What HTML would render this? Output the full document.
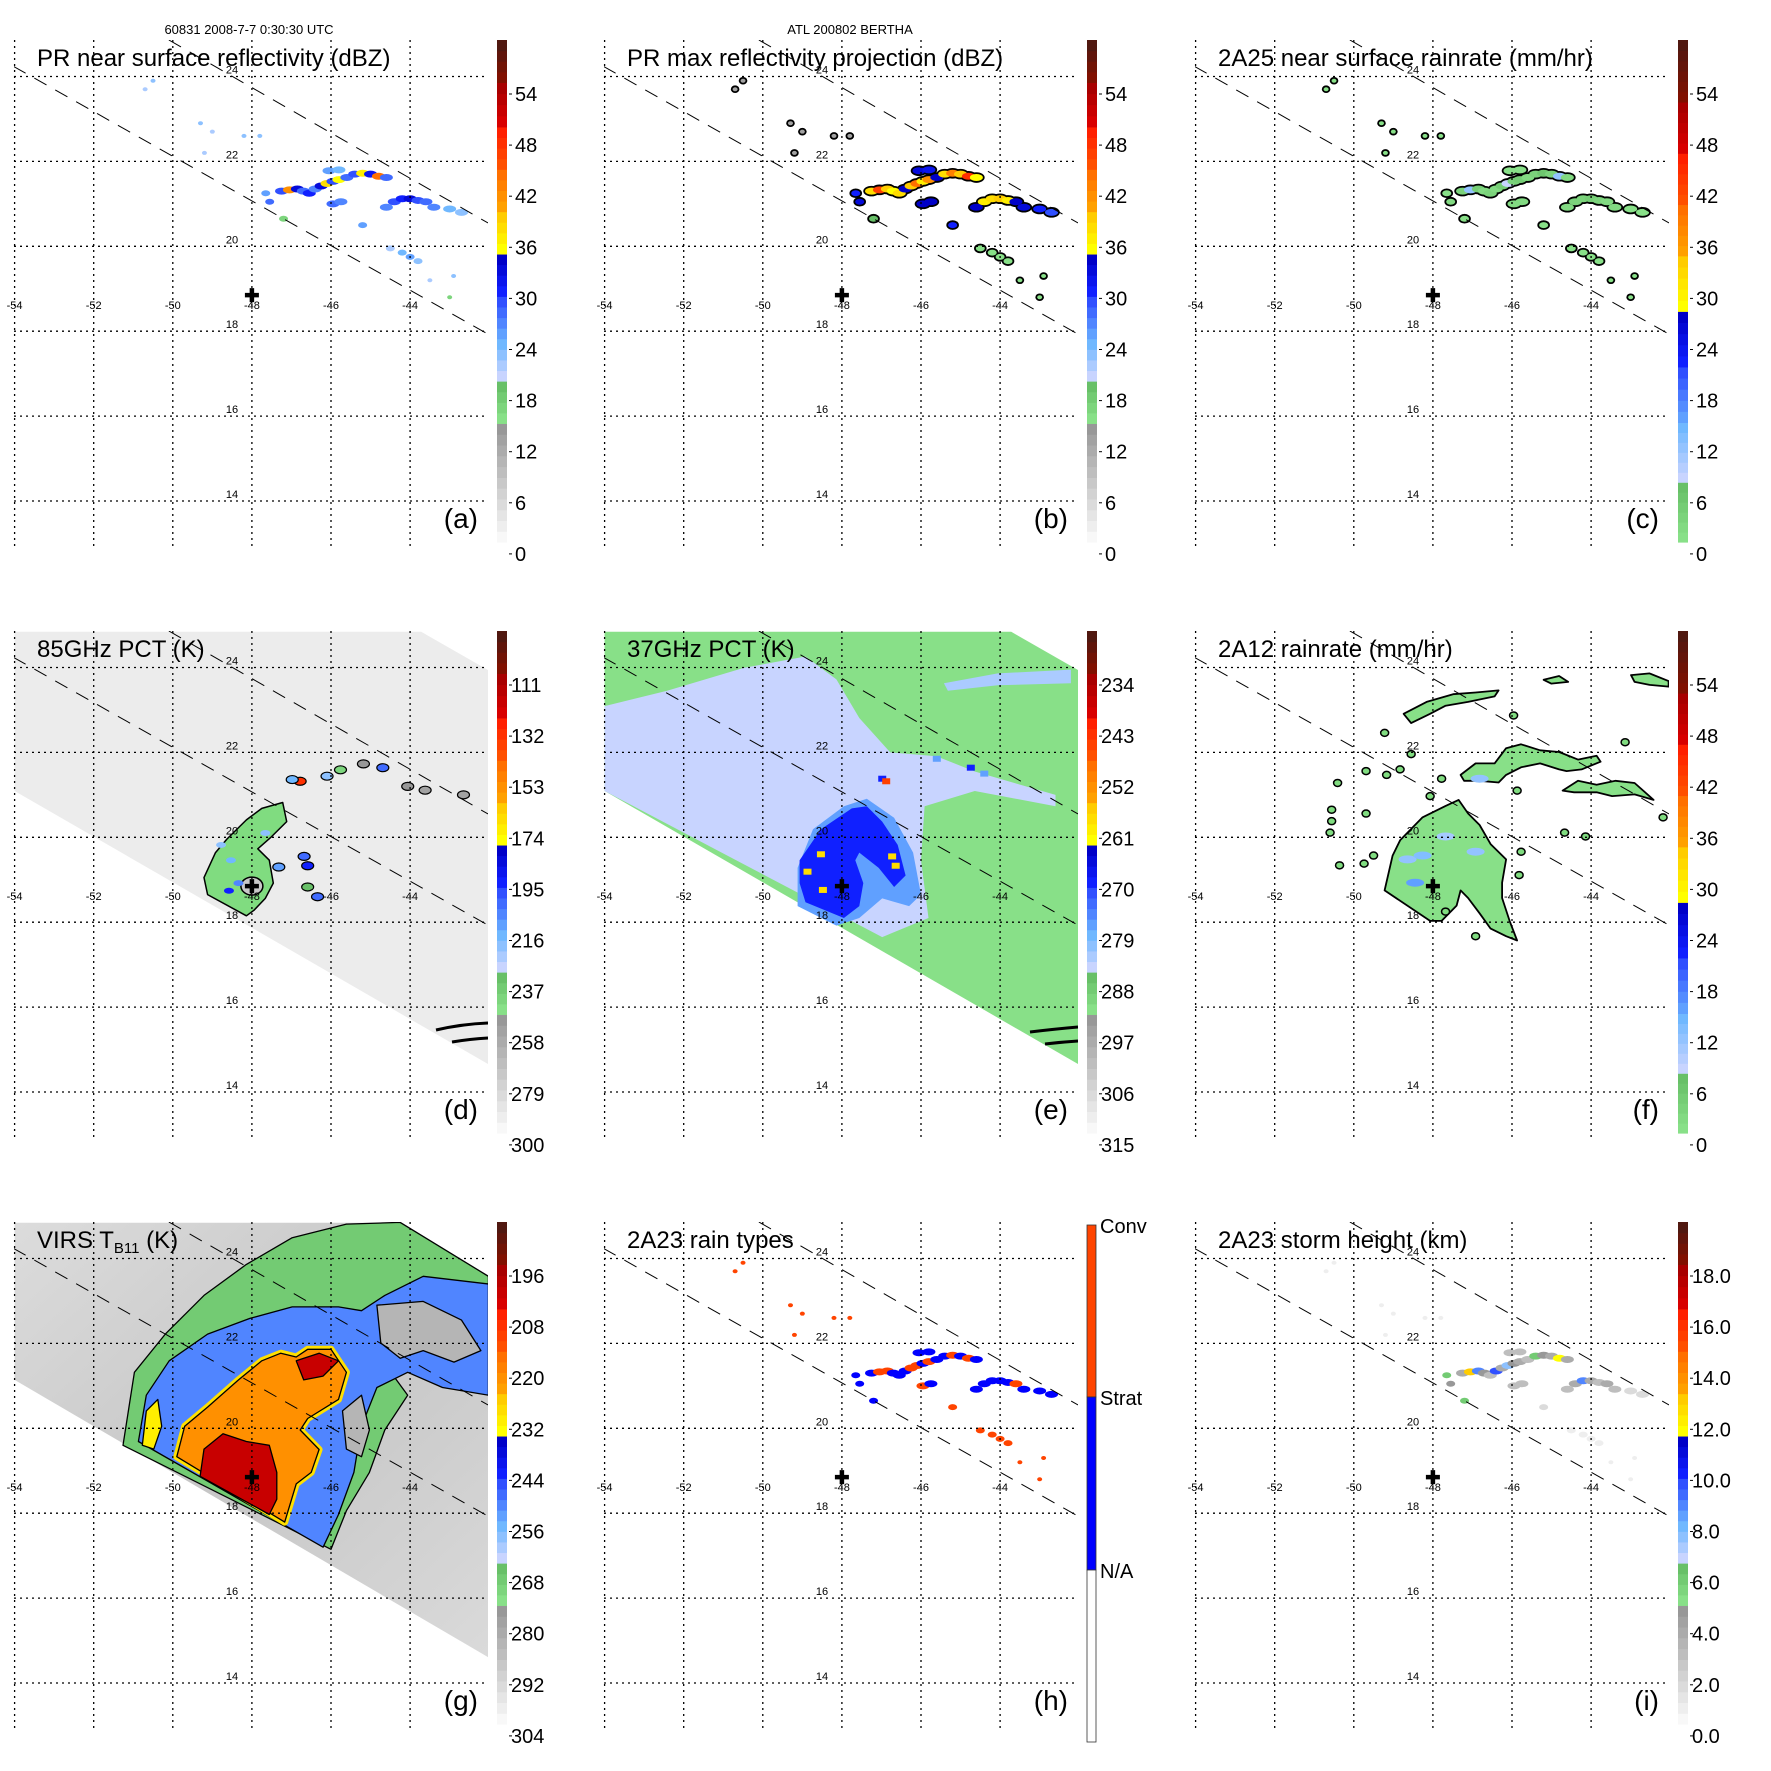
<!DOCTYPE html>
<html><head><meta charset="utf-8"><style>
html,body{margin:0;padding:0;background:#fff;}
svg{display:block;font-family:"Liberation Sans",sans-serif;}
</style></head><body>
<svg id="chart" width="1771" height="1771" viewBox="0 0 1771 1771" xmlns="http://www.w3.org/2000/svg">
<rect x="0" y="0" width="1771" height="1771" fill="#fff"/>
<text x="249" y="34" font-size="13" text-anchor="middle">60831 2008-7-7 0:30:30 UTC</text>
<text x="850" y="34" font-size="13" text-anchor="middle">ATL 200802 BERTHA</text>
</svg>
<script>
// ---------------- data ----------------
const lonTicks=[-54,-52,-50,-48,-46,-44];
const latTicks=[24,22,20,18,16,14];
const stormCenter=[-48,18.85];
const swathUpper=[[-50.1,24.86],[-42.03,20.55]];
const swathLower=[[-54.03,24.24],[-42.03,17.93]];
const tmiSwath=[[-54,24.84],[-43.72,24.84],[-42.03,23.94],[-42.03,14.66],[-54,21.09]];
const virsSwath=[[-54,24.84],[-44.25,24.84],[-42.03,23.45],[-42.03,14.61],[-54,21.14]];

const labelsDbz=[54,48,42,36,30,24,18,12,6,0];
const labelsRain=[54,48,42,36,30,24,18,12,6,0];
const labels85=[111,132,153,174,195,216,237,258,279,300];
const labels37=[234,243,252,261,270,279,288,297,306,315];
const labelsVirs=[196,208,220,232,244,256,268,280,292,304];
const labelsHt=["18.0","16.0","14.0","12.0","10.0","8.0","6.0","4.0","2.0","0.0"];

// PR pixel locations shared by panels a,b,c,h,i
const prLon=[-47.25,-47.05,-46.85,-46.70,-46.55,-46.40,-46.25,-46.10,-45.95,-45.80,-45.60,-45.40,-45.20,-45.00,-44.80,-44.60,-46.05,-45.80,
 -44.60,-44.40,-44.20,-44.00,-43.80,-43.60,-43.40,-43.00,-42.70,-45.95,-45.75,-47.65,-47.55,-47.20,-45.20,-44.20,-44.00,-43.80,-44.50,
 -50.70,-50.50,-49.30,-49.00,-48.20,-47.80,-49.20,-42.90,-43.50,-43.00];
const prLat=[21.30,21.33,21.35,21.30,21.25,21.35,21.42,21.48,21.53,21.57,21.62,21.70,21.72,21.70,21.65,21.62,21.78,21.80,
 20.92,21.05,21.12,21.12,21.08,21.05,20.92,20.88,20.80,21.00,21.05,21.25,21.05,20.65,20.50,19.85,19.75,19.65,19.95,
 23.70,23.90,22.90,22.70,22.60,22.60,22.20,19.30,19.20,18.80];
const reflNear=[30,42,33,28,31,27,33,38,30,36,28,30,37,32,44,29,26,25,27,30,31,33,30,29,27,25,24,28,27,26,28,17,26,25,26,24,22,22,24,24,22,23,24,22,24,22,17];
const reflMax=[38,47,40,36,38,34,40,44,37,42,35,38,43,39,48,36,33,32,34,37,38,40,37,35,33,31,30,35,34,31,33,20,31,16,16,16,16,14,14,14,14,14,14,14,16,16,16];
const rainNear=[4,12,5,3,4,3,5,9,4,6,3,4,7,4,13,3,2,2,3,4,4,5,4,3,3,2,2,3,3,2,3,1,2,1,1,1,1,1,1,1,1,1,1,1,1,1,1];
const rainType=[1,2,2,1,1,1,2,2,1,2,1,1,2,1,2,1,1,1,1,1,1,1,1,2,1,1,1,2,1,1,1,1,2,2,2,2,2,2,2,2,2,2,2,2,2,2,2];
const stormHt=[4,13,9,5,3,10,4,8,5,4,3,6,5,4,12,4,3,3,3,4,9,4,3,4,3,2,2,3,3,6,5,6,2,1,1,1,1,1,1,1,1,1,1,1,1,1,1];

// TMI 85 GHz
const core85=[[-49.12,18.65],[-49.21,19.05],[-48.92,19.64],[-48.63,19.96],[-48.14,20.41],[-47.75,20.68],[-47.22,20.82],[-47.12,20.37],[-47.51,20.01],[-47.85,19.73],[-47.56,19.46],[-47.46,18.92],[-47.66,18.56],[-47.95,18.28],[-48.14,18.15]];
const spot85Lon=[-47.32,-46.68,-46.59,-46.59,-46.34,-46.78,-46.98,-46.10,-45.76,-45.18,-44.69,-44.06,-43.62,-42.65,-48.53,-48.58,-48.34,-48.78,-47.66];
const spot85Lat=[19.30,19.55,19.33,18.83,18.60,21.32,21.36,21.44,21.59,21.73,21.64,21.20,21.11,21.00,19.46,18.74,18.92,19.82,20.10];
const spot85Val=[210,200,190,230,200,130,215,220,240,250,200,250,255,255,215,190,205,220,220];
// TMI 37 GHz
const light37=[[-54,21.55],[-54,23.09],[-52.42,23.45],[-50.48,23.99],[-48.92,24.26],[-48.14,23.72],[-47.56,22.81],[-46.78,22.0],[-45.61,21.91],[-44.64,21.55],[-42.6,21.0],[-42.6,20.73],[-44.64,21.09],[-45.91,20.73],[-46.0,19.46],[-45.81,18.10],[-46.98,17.65],[-54,21.09]];
const streak37=[[-45.42,23.63],[-44.06,23.86],[-42.21,23.95],[-42.21,23.63],[-44.06,23.58],[-45.32,23.45]];
const mid37=[[-49.12,19.28],[-48.73,20.19],[-47.95,20.73],[-47.37,20.91],[-46.68,20.46],[-46.2,19.64],[-46.0,18.65],[-46.30,18.38],[-46.98,18.56],[-47.56,18.10],[-48.14,17.92],[-49.12,18.38]];
const dark37=[[-49.07,19.46],[-48.53,20.19],[-47.75,20.68],[-47.37,20.73],[-46.98,20.37],[-46.59,19.82],[-46.39,19.10],[-46.68,18.83],[-47.07,19.28],[-47.56,19.64],[-47.66,19.46],[-47.46,18.92],[-47.56,18.38],[-47.95,18.10],[-48.92,18.47],[-49.07,18.92]];
const spot37Lon=[-48.53,-48.87,-48.48,-46.73,-46.64,-46.98,-46.88,-44.74,-45.60,-44.40];
const spot37Lat=[19.60,19.19,18.76,19.55,19.33,21.38,21.32,21.64,21.85,21.50];
const spot37Val=[258,258,258,258,258,268,245,268,276,276];
// 2A12
const coreF=[[-49.22,18.75],[-49.02,19.57],[-48.83,19.93],[-48.26,20.47],[-47.68,20.74],[-47.35,20.88],[-47.11,20.56],[-46.82,20.29],[-46.54,19.84],[-46.15,19.48],[-46.25,18.93],[-46.25,18.57],[-46.06,18.03],[-45.87,17.57],[-46.15,17.67],[-46.54,17.85],[-46.82,18.21],[-47.11,18.57],[-47.30,18.75],[-47.40,18.39],[-47.78,18.03],[-48.07,18.03]];
const bandF2=[[-47.30,21.47],[-46.92,21.74],[-46.44,21.74],[-46.15,22.10],[-45.77,22.19],[-45.29,22.05],[-44.81,22.01],[-44.33,21.83],[-43.86,21.92],[-43.76,21.78],[-44.24,21.60],[-44.62,21.56],[-44.81,21.60],[-45.29,21.74],[-45.77,21.65],[-46.15,21.47],[-46.34,21.29],[-46.82,21.33],[-47.21,21.33]];
const bandF3=[[-44.72,21.10],[-44.33,21.33],[-43.86,21.24],[-43.38,21.33],[-42.90,21.28],[-42.42,20.88],[-42.90,21.01],[-43.47,20.97],[-43.86,21.06],[-44.43,21.06]];
const bandF4=[[-48.74,22.91],[-48.16,23.19],[-47.49,23.37],[-46.92,23.41],[-46.34,23.46],[-46.44,23.32],[-47.11,23.19],[-47.68,23.10],[-48.07,22.91],[-48.55,22.69]];
const bandF5=[[-45.20,23.71],[-44.81,23.80],[-44.58,23.66],[-45.01,23.62]];
const bandF6=[[-42.99,23.82],[-42.52,23.86],[-42.04,23.68],[-42.04,23.55],[-42.52,23.59],[-42.90,23.66]];
const rainF=[2,2,2,2,2,2];
const spotFLon=[-50.56,-50.56,-50.60,-50.41,-49.69,-49.17,-48.83,-48.55,-49.22,-49.69,-49.50,-49.74,-50.36,-48.07,-47.78,-45.87,-45.96,-45.77,-45.82,-44.14,-43.14,-42.18,-47.68,-46.92,-44.67];
const spotFLat=[20.38,20.65,20.11,21.28,21.56,21.47,21.60,21.96,22.46,20.56,19.57,19.38,19.34,20.97,21.38,21.10,22.87,19.66,19.11,20.02,22.24,20.47,18.25,17.67,20.11];
const heavyFLon=[-48.64,-48.26,-47.68,-46.92,-48.45,-46.82];
const heavyFLat=[19.48,19.57,20.02,19.66,18.93,21.38];
const heavyFVal=[12,14,11,12,16,13];
// VIRS
const virsGreen=[[-51.26,19.60],[-50.97,21.32],[-50.19,22.22],[-49.21,23.13],[-48.14,23.86],[-46.98,24.49],[-45.61,24.81],[-44.25,24.85],[-42.02,23.58],[-42.02,23.22],[-43.67,22.77],[-44.64,22.41],[-44.84,21.77],[-44.06,20.78],[-44.64,19.96],[-45.03,18.96],[-45.61,18.06],[-46.0,17.15]];
const virsBlue=[[-50.87,19.69],[-50.67,20.78],[-50.09,21.59],[-49.12,22.22],[-48.05,22.59],[-46.98,22.86],[-45.81,22.86],[-45.23,22.77],[-44.64,23.13],[-43.67,23.58],[-42.02,23.40],[-42.02,20.78],[-43.18,20.96],[-44.06,21.32],[-44.84,20.96],[-45.23,20.05],[-45.42,18.96],[-45.81,17.97],[-46.20,17.20]];
const virsHole1=[[-44.84,22.90],[-43.67,22.99],[-42.70,22.55],[-42.21,21.83],[-42.89,21.56],[-43.67,21.83],[-44.25,21.65],[-44.74,22.01]];
const virsHole2=[[-45.71,20.41],[-45.23,20.78],[-45.03,19.96],[-45.23,19.33],[-45.61,19.51]];
const virsOrange=[[-49.90,19.33],[-49.70,20.05],[-49.12,20.50],[-48.34,21.14],[-47.75,21.59],[-47.27,21.77],[-46.88,21.68],[-46.59,21.86],[-46.0,21.86],[-45.61,21.32],[-45.81,20.68],[-46.59,20.23],[-46.78,19.96],[-46.30,19.50],[-46.50,18.96],[-46.88,18.69],[-47.17,17.79]];
const virsRed=[[-49.31,18.87],[-49.21,19.51],[-48.73,19.87],[-48.14,19.69],[-47.56,19.60],[-47.37,18.96],[-47.37,18.33],[-47.56,17.97]];
const virsRed2=[[-46.88,21.59],[-46.30,21.77],[-45.81,21.59],[-46.20,21.23],[-46.69,21.14]];
const virsYellow=[[-50.67,20.41],[-50.38,20.68],[-50.28,20.05],[-50.48,19.51],[-50.77,19.60]];
const virsVals=[268,250,282,282,221,200,200,230];

// ---------------- rendering ----------------
const NS='http://www.w3.org/2000/svg';
const svg=document.getElementById('chart');
function mk(tag,parent){const e=document.createElementNS(NS,tag);(parent||svg).appendChild(e);return e;}
function hx(h){return [parseInt(h.slice(1,3),16),parseInt(h.slice(3,5),16),parseInt(h.slice(5,7),16)];}
function mix(a,b,t){const A=hx(a),B=hx(b);return 'rgb('+A.map((v,i)=>Math.round(v+(B[i]-v)*t)).join(',')+')';}
const secStd=[['#f8f8f8','#989898',2.8],['#88e088','#68c068',1],['#c8d4ff','#70b8ff',1],['#60a0ff','#3050ff',1],['#1020ff','#0000c8',1],['#ffff00','#ffcc00',1],['#ffa000','#ff7000',1],['#ff5000','#ff2000',1],['#d80000','#a80000',1.05],['#801000','#501810',1]];
const secRain=[['#88e088','#68c068',1.4],['#c8d4ff','#70b8ff',1.4],['#60a0ff','#3050ff',1.3],['#1020ff','#0000c8',1.3],['#ffff00','#ffcc00',1.3],['#ffa000','#ff7000',1.2],['#ff5000','#ff2000',1.2],['#d80000','#a80000',1.2],['#801000','#501810',1.45]];
const BAR_TOP=40,BAR_BOT=542;
function buildBands(secs){const tot=secs.reduce((s,c)=>s+c[2],0);const pp=(BAR_BOT-BAR_TOP)/tot;const bands=[];let y=BAR_BOT;
 secs.forEach(s=>{const n=Math.max(2,Math.round(s[2]*4));const h=s[2]*pp/n;for(let i=0;i<n;i++){bands.push({y0:y-h,y1:y,c:mix(s[0],s[1],n>1?i/(n-1):0)});y-=h;}});return bands;}
function colorAtY(bands,y){y=Math.max(BAR_TOP+0.1,Math.min(BAR_BOT-0.1,y));for(const b of bands){if(y>=b.y0&&y<=b.y1)return b.c;}return bands[0].c;}
function valToY(labels,v){const a=parseFloat(labels[0]),b=parseFloat(labels[1]);return 94+(v-a)/(b-a)*51.1;}

const cols=[0,590,1181],rows=[0,591,1182];
function makePanel(i){const ox=cols[i%3],oy=rows[Math.floor(i/3)];
 const X=lon=>ox+14.6+(lon+54)*39.55, Y=lat=>oy+76.5+(24-lat)*42.45;
 const g=mk('g');
 
 
 const cp=mk('clipPath',g);cp.setAttribute('id','clip'+i);
 const cr=mk('rect',cp);cr.setAttribute('x',ox+14);cr.setAttribute('y',oy+40);cr.setAttribute('width',474);cr.setAttribute('height',510);
 const data=mk('g',g);data.setAttribute('clip-path','url(#clip'+i+')');
 
 
 const pts=arr=>arr.map(p=>X(p[0]).toFixed(1)+','+Y(p[1]).toFixed(1)).join(' ');
 return {ox,oy,X,Y,g,data,pts};}

function poly(P,parent,arr,fill,name,stroke,sw){const e=mk('polygon',parent);e.setAttribute('points',P.pts(arr));e.setAttribute('fill',fill);
 if(stroke){e.setAttribute('stroke',stroke);e.setAttribute('stroke-width',sw||1.5);e.setAttribute('stroke-linejoin','round');}
 
 
 return e;}

function grid(P){const gg=mk('g',P.g);
 
 
 lonTicks.forEach(l=>{const e=mk('line',gg);e.setAttribute('x1',P.X(l));e.setAttribute('x2',P.X(l));e.setAttribute('y1',P.oy+40);e.setAttribute('y2',P.oy+550);e.setAttribute('stroke','#000');e.setAttribute('stroke-width',1.3);e.setAttribute('stroke-dasharray','2,4');
  
  
  const t=mk('text',gg);t.textContent=String(l);t.setAttribute('x',P.X(l));t.setAttribute('y',P.Y(18.85)+14);t.setAttribute('font-size',11);t.setAttribute('text-anchor','middle');
  
  });
 latTicks.forEach(l=>{const e=mk('line',gg);e.setAttribute('x1',P.ox+14);e.setAttribute('x2',P.ox+488);e.setAttribute('y1',P.Y(l));e.setAttribute('y2',P.Y(l));e.setAttribute('stroke','#000');e.setAttribute('stroke-width',1.3);e.setAttribute('stroke-dasharray','2,4');
  
  
  const t=mk('text',gg);t.textContent=String(l);t.setAttribute('x',P.ox+232);t.setAttribute('y',P.Y(l)-3);t.setAttribute('font-size',11);t.setAttribute('text-anchor','middle');
  
  });
 [swathUpper,swathLower].forEach(s=>{const e=mk('line',P.data);e.setAttribute('x1',P.X(s[0][0]));e.setAttribute('y1',P.Y(s[0][1]));e.setAttribute('x2',P.X(s[1][0]));e.setAttribute('y2',P.Y(s[1][1]));e.setAttribute('stroke','#000');e.setAttribute('stroke-width',1);e.setAttribute('stroke-dasharray','14,10');
  
  });
 const cx=P.X(stormCenter[0]),cy=P.Y(stormCenter[1]);
 const c=mk('path',P.g);c.setAttribute('d',`M${cx-7},${cy}H${cx+7}M${cx},${cy-7}V${cy+7}`);c.setAttribute('stroke','#000');c.setAttribute('stroke-width',4.5);
 
 }

function titleAndLetter(P,title,letter,sub){const t=mk('text',P.g);t.setAttribute('x',P.ox+37);t.setAttribute('y',P.oy+66);t.setAttribute('font-size',24);
 
 
 if(sub){const a=mk('tspan',t);a.textContent='VIRS T';const b=mk('tspan',t);b.textContent='B11';b.setAttribute('font-size',15);b.setAttribute('dy',5);const c=mk('tspan',t);c.textContent=' (K)';c.setAttribute('dy',-5);}
 else t.textContent=title;
 const l=mk('text',P.g);l.textContent='('+letter+')';l.setAttribute('x',P.ox+478);l.setAttribute('y',P.oy+528);l.setAttribute('font-size',28);l.setAttribute('text-anchor','end');
 
 }

function colorbar(P,bands,labels){const cb=mk('g',P.g);
 
 
 bands.forEach(b=>{const r=mk('rect',cb);r.setAttribute('x',P.ox+497);r.setAttribute('y',(P.oy+b.y0).toFixed(2));r.setAttribute('width',10);r.setAttribute('height',(b.y1-b.y0+0.6).toFixed(2));r.setAttribute('fill',b.c);
  
  });
 labels.forEach((lb,k)=>{const y=P.oy+94+k*51.1;const tk=mk('line',cb);tk.setAttribute('x1',P.ox+509);tk.setAttribute('x2',P.ox+512);tk.setAttribute('y1',y);tk.setAttribute('y2',y);tk.setAttribute('stroke','#000');
  const t=mk('text',cb);t.textContent=String(lb);t.setAttribute('x',P.ox+(String(lb).length>2?511:515));t.setAttribute('y',y+7);t.setAttribute('font-size',20);
  
  });}

const ISOLATED_FROM=37;
function cellSize(k){return k>=ISOLATED_FROM?[2.5,2]:(k>=29?[4.5,3]:[6.5,3.5]);}
function prCells(P,vals,labels,bands,outline,colorFn){if(outline){prLon.forEach((l,k)=>{const s=cellSize(k);const e=mk('ellipse',P.data);e.setAttribute('cx',P.X(l));e.setAttribute('cy',P.Y(prLat[k]));e.setAttribute('rx',s[0]+1.8);e.setAttribute('ry',s[1]+1.8);e.setAttribute('fill','#000');
  
  });}
 prLon.forEach((l,k)=>{const s=cellSize(k);const e=mk('ellipse',P.data);e.setAttribute('cx',P.X(l));e.setAttribute('cy',P.Y(prLat[k]));e.setAttribute('rx',s[0]);e.setAttribute('ry',s[1]);
  e.setAttribute('fill',colorFn?colorFn(vals[k]):colorAtY(bands,valToY(labels,vals[k])));
  
  });}

const stdBands=buildBands(secStd),rainBands=buildBands(secRain);
const htLabelsNum=labelsHt.map(parseFloat);

// (a)
let P=makePanel(0);prCells(P,reflNear,labelsDbz,stdBands,false);grid(P);titleAndLetter(P,'PR near surface reflectivity (dBZ)','a');colorbar(P,stdBands,labelsDbz);
// (b)
P=makePanel(1);prCells(P,reflMax,labelsDbz,stdBands,true);grid(P);titleAndLetter(P,'PR max reflectivity projection (dBZ)','b');colorbar(P,stdBands,labelsDbz);
// (c)
P=makePanel(2);prCells(P,rainNear,labelsRain,rainBands,true);grid(P);titleAndLetter(P,'2A25 near surface rainrate (mm/hr)','c');colorbar(P,rainBands,labelsRain);
// (d)
P=makePanel(3);
poly(P,P.data,tmiSwath,'#ececec','tmi-85ghz-swath');
poly(P,P.data,core85,'#80dc80','convective-ring-85ghz','#000',1.5);
{const e=mk('ellipse',P.data);e.setAttribute('cx',P.X(stormCenter[0]));e.setAttribute('cy',P.Y(stormCenter[1]));e.setAttribute('rx',11);e.setAttribute('ry',9);e.setAttribute('fill','#c8c8c8');e.setAttribute('stroke','#000');e.setAttribute('stroke-width',1.5);
 
 }
spot85Lon.forEach((l,k)=>{const e=mk('ellipse',P.data);e.setAttribute('cx',P.X(l));e.setAttribute('cy',P.Y(spot85Lat[k]));e.setAttribute('rx',k<14?6:5);e.setAttribute('ry',k<14?4:3);e.setAttribute('fill',colorAtY(stdBands,valToY(labels85,spot85Val[k])));e.setAttribute('stroke',k<14?'#000':'none');e.setAttribute('stroke-width',1.2);
 
 });
{const e=mk('path',P.data);e.setAttribute('d',`M${P.ox+436},${P.oy+439} Q${P.ox+462},${P.oy+433} ${P.ox+488},${P.oy+432} M${P.ox+452},${P.oy+451} Q${P.ox+470},${P.oy+448} ${P.ox+488},${P.oy+447}`);e.setAttribute('stroke','#000');e.setAttribute('stroke-width',3);e.setAttribute('fill','none');
 
 }
grid(P);titleAndLetter(P,'85GHz PCT (K)','d');colorbar(P,stdBands,labels85);
// (e)
P=makePanel(4);
poly(P,P.data,tmiSwath,colorAtY(stdBands,valToY(labels37,292)),'tmi-37ghz-swath');
poly(P,P.data,light37,colorAtY(stdBands,valToY(labels37,284)),'light-rain-region-37ghz');
poly(P,P.data,streak37,colorAtY(stdBands,valToY(labels37,281)),'rainband-streak-37ghz');
poly(P,P.data,mid37,colorAtY(stdBands,valToY(labels37,277)),'moderate-rain-region-37ghz');
poly(P,P.data,dark37,colorAtY(stdBands,valToY(labels37,268)),'heavy-rain-core-37ghz');
spot37Lon.forEach((l,k)=>{const e=mk('rect',P.data);e.setAttribute('x',P.X(l)-4);e.setAttribute('y',P.Y(spot37Lat[k])-3);e.setAttribute('width',8);e.setAttribute('height',6);e.setAttribute('fill',colorAtY(stdBands,valToY(labels37,spot37Val[k])));
 
 });
{const e=mk('path',P.data);e.setAttribute('d',`M${P.ox+440},${P.oy+441} Q${P.ox+465},${P.oy+438} ${P.ox+488},${P.oy+436} M${P.ox+455},${P.oy+453} Q${P.ox+472},${P.oy+451} ${P.ox+488},${P.oy+450}`);e.setAttribute('stroke','#000');e.setAttribute('stroke-width',3);e.setAttribute('fill','none');
 
 }
grid(P);titleAndLetter(P,'37GHz PCT (K)','e');colorbar(P,stdBands,labels37);
// (f)
P=makePanel(5);
[coreF,bandF2,bandF3,bandF4,bandF5,bandF6].forEach((b,k)=>poly(P,P.data,b,colorAtY(rainBands,valToY(labelsRain,rainF[k])),'tmi-rain-area','#000',1.8));
spotFLon.forEach((l,k)=>{const e=mk('ellipse',P.data);e.setAttribute('cx',P.X(l));e.setAttribute('cy',P.Y(spotFLat[k]));e.setAttribute('rx',4);e.setAttribute('ry',3.5);e.setAttribute('fill','#80dc80');e.setAttribute('stroke','#000');e.setAttribute('stroke-width',1.5);
 
 });
heavyFLon.forEach((l,k)=>{const e=mk('ellipse',P.data);e.setAttribute('cx',P.X(l));e.setAttribute('cy',P.Y(heavyFLat[k]));e.setAttribute('rx',9);e.setAttribute('ry',4);e.setAttribute('fill',colorAtY(rainBands,valToY(labelsRain,heavyFVal[k])));
 
 });
grid(P);titleAndLetter(P,'2A12 rainrate (mm/hr)','f');colorbar(P,rainBands,labelsRain);
// (g)
P=makePanel(6);
{const lg=mk('linearGradient',P.g);lg.setAttribute('id','virsbg');lg.setAttribute('x1','0');lg.setAttribute('y1','0');lg.setAttribute('x2','1');lg.setAttribute('y2','1');
 const s1=mk('stop',lg);s1.setAttribute('offset','0');s1.setAttribute('stop-color','#dcdcdc');
 const s2=mk('stop',lg);s2.setAttribute('offset','0.5');s2.setAttribute('stop-color','#c6c6c6');
 const s3=mk('stop',lg);s3.setAttribute('offset','1');s3.setAttribute('stop-color','#dadada');}
poly(P,P.data,virsSwath,'url(#virsbg)','virs-swath');
const virsPolys=[virsGreen,virsBlue,virsHole1,virsHole2,virsOrange,virsRed,virsRed2,virsYellow];
const virsNames=['cloud-edge-268k','cold-cloud-250k','clear-gap-1','clear-gap-2','cold-top-220k','coldest-top-200k','coldest-top-north','cold-band-west'];
virsPolys.forEach((p,k)=>{const e=poly(P,P.data,p,colorAtY(stdBands,valToY(labelsVirs,virsVals[k])),virsNames[k],'#000',1.3);
 if(k===4){const y=poly(P,P.data,p,'none','cold-top-rim','#ffe000',7);P.data.insertBefore(y,e);}});
grid(P);titleAndLetter(P,'','g',true);colorbar(P,stdBands,labelsVirs);
// (h)
P=makePanel(7);
prCells(P,rainType,labelsDbz,stdBands,false,v=>v===2?'#ff4400':'#0000ff');
grid(P);titleAndLetter(P,'2A23 rain types','h');
{const cb=mk('g',P.g);
 
 
 [['#ff4400',43,215,'Conv'],['#0000ff',215,388,'Strat'],['#ffffff',388,560,'N/A']].forEach(s=>{const r=mk('rect',cb);r.setAttribute('x',P.ox+497);r.setAttribute('y',P.oy+s[1]);r.setAttribute('width',9);r.setAttribute('height',s[2]-s[1]);r.setAttribute('fill',s[0]);r.setAttribute('stroke','#333');r.setAttribute('stroke-width',0.8);
  
  
  const t=mk('text',cb);t.textContent=s[3];t.setAttribute('x',P.ox+510);t.setAttribute('y',P.oy+s[1]+8);t.setAttribute('font-size',20);
  
  });}
// (i)
P=makePanel(8);
prLon.forEach((l,k)=>{const s=cellSize(k);const e=mk('ellipse',P.data);e.setAttribute('cx',P.X(l));e.setAttribute('cy',P.Y(prLat[k]));e.setAttribute('rx',s[0]);e.setAttribute('ry',s[1]);
 const y=94+(stormHt[k]-htLabelsNum[0])/(htLabelsNum[1]-htLabelsNum[0])*51.1;
 e.setAttribute('fill',colorAtY(stdBands,y));
 
 });
grid(P);titleAndLetter(P,'2A23 storm height (km)','i');colorbar(P,stdBands,labelsHt);
</script>
</body></html>
